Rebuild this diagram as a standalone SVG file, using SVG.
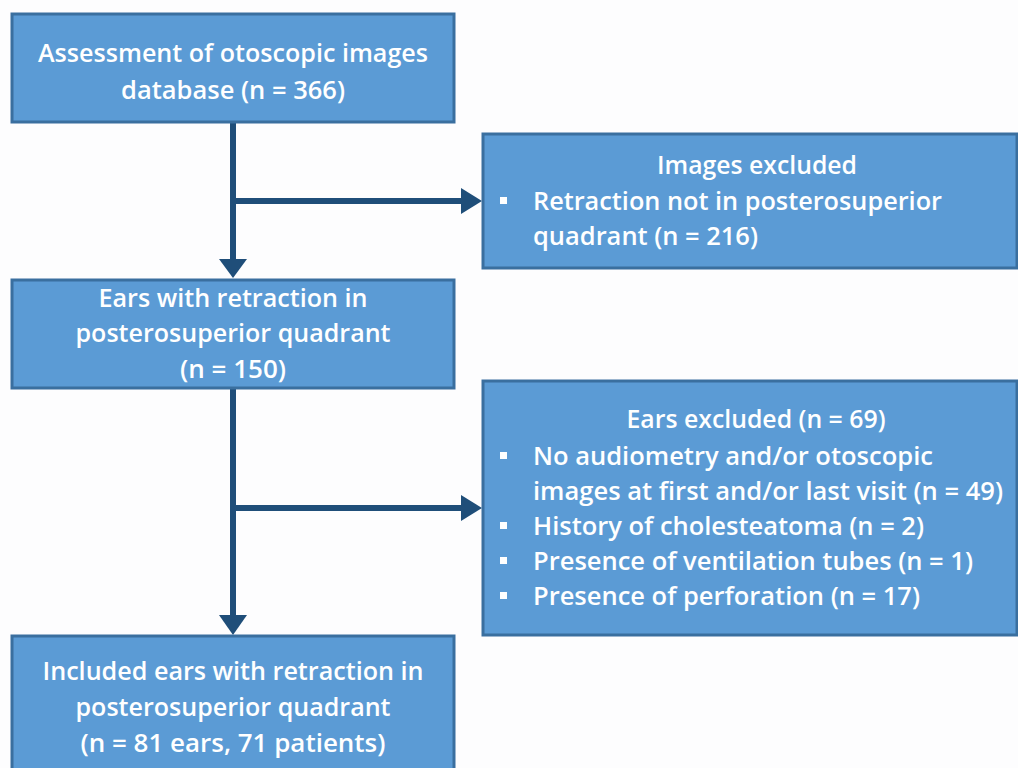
<svg xmlns="http://www.w3.org/2000/svg" width="1018" height="768" viewBox="0 0 1018 768">
<defs>
<style>
.box{fill:#5B9BD5;stroke:#3A6F9F;stroke-width:3}
.t{font-family:"Open Sans","Noto Sans",sans-serif;font-weight:600;font-size:24.5px;fill:#FFFFFF}
.c{text-anchor:middle}
.ln{stroke:#1F4E79;stroke-width:6;fill:none}
.bul{fill:#FFFFFF}
</style>
</defs>
<rect width="1018" height="768" fill="#FDFDFE"/>
<g id="connectors">
<line class="ln" x1="233" y1="122" x2="233" y2="260"/>
<path d="M219,259 L247,259 L233,278 Z" fill="#1F4E79"/>
<line class="ln" x1="233" y1="201" x2="462" y2="201"/>
<path d="M461,188 L482,201 L461,214 Z" fill="#1F4E79"/>
<line class="ln" x1="233" y1="388" x2="233" y2="616"/>
<path d="M219,615 L247,615 L233,635 Z" fill="#1F4E79"/>
<line class="ln" x1="233" y1="508" x2="462" y2="508"/>
<path d="M461,495 L482,508 L461,521 Z" fill="#1F4E79"/>
</g>
<g id="node-assessment">
<rect class="box" x="12" y="14" width="442" height="108"/>
<text class="t c" x="233" y="62" textLength="390" lengthAdjust="spacingAndGlyphs">Assessment of otoscopic images</text>
<text class="t c" x="233" y="99" textLength="224" lengthAdjust="spacingAndGlyphs">database (n = 366)</text>
</g>
<g id="node-images-excluded">
<rect class="box" x="483" y="134" width="534" height="134"/>
<text class="t c" x="757" y="174" textLength="200" lengthAdjust="spacingAndGlyphs">Images excluded</text>
<rect class="bul" x="500" y="197" width="7" height="7"/>
<text class="t" x="533" y="210" textLength="409" lengthAdjust="spacingAndGlyphs">Retraction not in posterosuperior</text>
<text class="t" x="533" y="245" textLength="225" lengthAdjust="spacingAndGlyphs">quadrant (n = 216)</text>
</g>
<g id="node-ears-retraction">
<rect class="box" x="12" y="280" width="442" height="108"/>
<text class="t c" x="233" y="307" textLength="269" lengthAdjust="spacingAndGlyphs">Ears with retraction in</text>
<text class="t c" x="233" y="342" textLength="315" lengthAdjust="spacingAndGlyphs">posterosuperior quadrant</text>
<text class="t c" x="233" y="378" textLength="106" lengthAdjust="spacingAndGlyphs">(n = 150)</text>
</g>
<g id="node-ears-excluded">
<rect class="box" x="483" y="381" width="534" height="254"/>
<text class="t c" x="756" y="428" textLength="259" lengthAdjust="spacingAndGlyphs">Ears excluded (n = 69)</text>
<rect class="bul" x="500" y="452" width="7" height="7"/>
<text class="t" x="533" y="465" textLength="400" lengthAdjust="spacingAndGlyphs">No audiometry and/or otoscopic</text>
<text class="t" x="533" y="500" textLength="470" lengthAdjust="spacingAndGlyphs">images at first and/or last visit (n = 49)</text>
<rect class="bul" x="500" y="522" width="7" height="7"/>
<text class="t" x="533" y="535" textLength="391" lengthAdjust="spacingAndGlyphs">History of cholesteatoma (n = 2)</text>
<rect class="bul" x="500" y="557" width="7" height="7"/>
<text class="t" x="533" y="570" textLength="440" lengthAdjust="spacingAndGlyphs">Presence of ventilation tubes (n = 1)</text>
<rect class="bul" x="500" y="592" width="7" height="7"/>
<text class="t" x="533" y="605" textLength="387" lengthAdjust="spacingAndGlyphs">Presence of perforation (n = 17)</text>
</g>
<g id="node-included">
<rect class="box" x="12" y="636" width="442" height="140"/>
<text class="t c" x="233" y="680" textLength="381" lengthAdjust="spacingAndGlyphs">Included ears with retraction in</text>
<text class="t c" x="233" y="716" textLength="315" lengthAdjust="spacingAndGlyphs">posterosuperior quadrant</text>
<text class="t c" x="233" y="752" textLength="305" lengthAdjust="spacingAndGlyphs">(n = 81 ears, 71 patients)</text>
</g>
</svg>
